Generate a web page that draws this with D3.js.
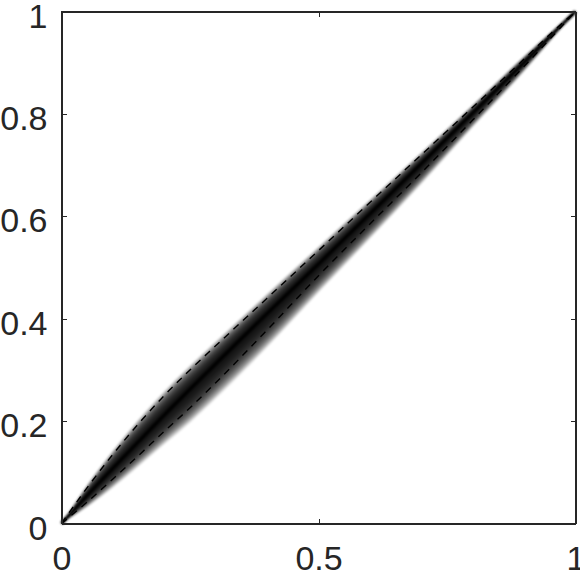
<!DOCTYPE html>
<html>
<head>
<meta charset="utf-8">
<script src="https://cdn.jsdelivr.net/npm/d3@7"></script>
<style>
  body { margin: 0; background: #fff; }
  svg { display: block; }
  .tick text { font-family: "Liberation Sans", Arial, Helvetica, sans-serif; font-size: 34px; fill: #262626; }
  .axis path, .axis line { stroke: #262626; shape-rendering: crispEdges; }
</style>
</head>
<body>
<svg id="chart"></svg>
<script>
// values
let xGrid      = [0, 0.05, 0.1, 0.15, 0.2, 0.25, 0.3, 0.4, 0.5, 0.6, 0.7, 0.8, 0.9, 0.95, 1];
let median     = [0, 0.055, 0.108, 0.160, 0.212, 0.262, 0.312, 0.410, 0.507, 0.605, 0.703, 0.802, 0.901, 0.951, 1];
let dashUpper  = [0, 0.070, 0.135, 0.195, 0.250, 0.300, 0.347, 0.440, 0.533, 0.627, 0.720, 0.813, 0.907, 0.955, 1];
let dashLower  = [0, 0.042, 0.087, 0.133, 0.180, 0.226, 0.275, 0.378, 0.484, 0.585, 0.685, 0.788, 0.893, 0.946, 1];
let cloudUpper = [0, 0.076, 0.143, 0.204, 0.259, 0.309, 0.356, 0.449, 0.541, 0.633, 0.725, 0.818, 0.913, 0.958, 1];
let cloudLower = [0, 0.032, 0.070, 0.112, 0.155, 0.197, 0.244, 0.344, 0.451, 0.556, 0.663, 0.774, 0.883, 0.941, 1];
let xTicks = [0, 0.5, 1];
let yTicks = [0, 0.2, 0.4, 0.6, 0.8, 1];

let chartWidth = 580, chartHeight = 573;
let plotLeft = 61.5, plotRight = 575.5, plotTop = 11.5, plotBottom = 523.5;

let svg = d3.select("#chart")
    .attr("width", chartWidth)
    .attr("height", chartHeight);

let x = d3.scaleLinear().domain([0, 1]).range([plotLeft, plotRight]);
let y = d3.scaleLinear().domain([0, 1]).range([plotBottom, plotTop]);

let rows = xGrid.map((v, i) => ({
    x: v, m: median[i], du: dashUpper[i], dl: dashLower[i], cu: cloudUpper[i], cl: cloudLower[i]
}));

svg.append("defs").append("filter")
    .attr("id", "soft")
    .append("feGaussianBlur")
    .attr("stdDeviation", 1.2);

// density cloud: stacked translucent bands around the median
let nLayers = 24;
let layers = d3.range(1, nLayers + 1).map(k => k / nLayers);
let cloud = svg.append("g").attr("filter", "url(#soft)");
cloud.selectAll(".layer")
    .data(layers)
  .enter().append("path")
    .attr("class", "layer")
    .attr("fill", "#000")
    .attr("fill-opacity", 0.12)
    .attr("d", t => d3.area()
        .curve(d3.curveMonotoneX)
        .x(d => x(d.x))
        .y0(d => y(d.m - t * (d.m - d.cl)))
        .y1(d => y(d.m + t * (d.cu - d.m)))(rows));

let line = key => d3.line().curve(d3.curveMonotoneX).x(d => x(d.x)).y(d => y(d[key]));

cloud.append("path")
    .attr("d", line("m")(rows))
    .attr("fill", "none")
    .attr("stroke", "#000")
    .attr("stroke-width", 3.5);

["du", "dl"].forEach(k => {
    svg.append("path")
        .attr("d", line(k)(rows))
        .attr("fill", "none")
        .attr("stroke", "#000")
        .attr("stroke-width", 1.4)
        .attr("stroke-dasharray", "7,6");
});

// axes, ticks pointing inward
svg.append("g")
    .attr("class", "axis")
    .attr("transform", "translate(0," + plotBottom + ")")
    .call(d3.axisBottom(x).tickValues(xTicks).tickSizeInner(-5).tickSizeOuter(0).tickPadding(22).tickFormat(d => String(d)));

svg.append("g")
    .attr("class", "axis")
    .attr("transform", "translate(" + plotLeft + ",0)")
    .call(d3.axisLeft(y).tickValues(yTicks).tickSizeInner(-5).tickSizeOuter(0).tickPadding(14).tickFormat(d => String(d)))
    .selectAll("text").attr("dy", "0.46em");

svg.append("g")
    .attr("class", "axis")
    .attr("transform", "translate(0," + plotTop + ")")
    .call(d3.axisTop(x).tickValues(xTicks).tickSizeInner(-5).tickSizeOuter(0).tickFormat(""));

svg.append("g")
    .attr("class", "axis")
    .attr("transform", "translate(" + plotRight + ",0)")
    .call(d3.axisRight(y).tickValues(yTicks).tickSizeInner(-5).tickSizeOuter(0).tickFormat(""));

svg.append("rect")
    .attr("x", plotLeft).attr("y", plotTop)
    .attr("width", plotRight - plotLeft).attr("height", plotBottom - plotTop)
    .attr("fill", "none")
    .attr("stroke", "#262626")
    .attr("shape-rendering", "crispEdges");
</script>
</body>
</html>
